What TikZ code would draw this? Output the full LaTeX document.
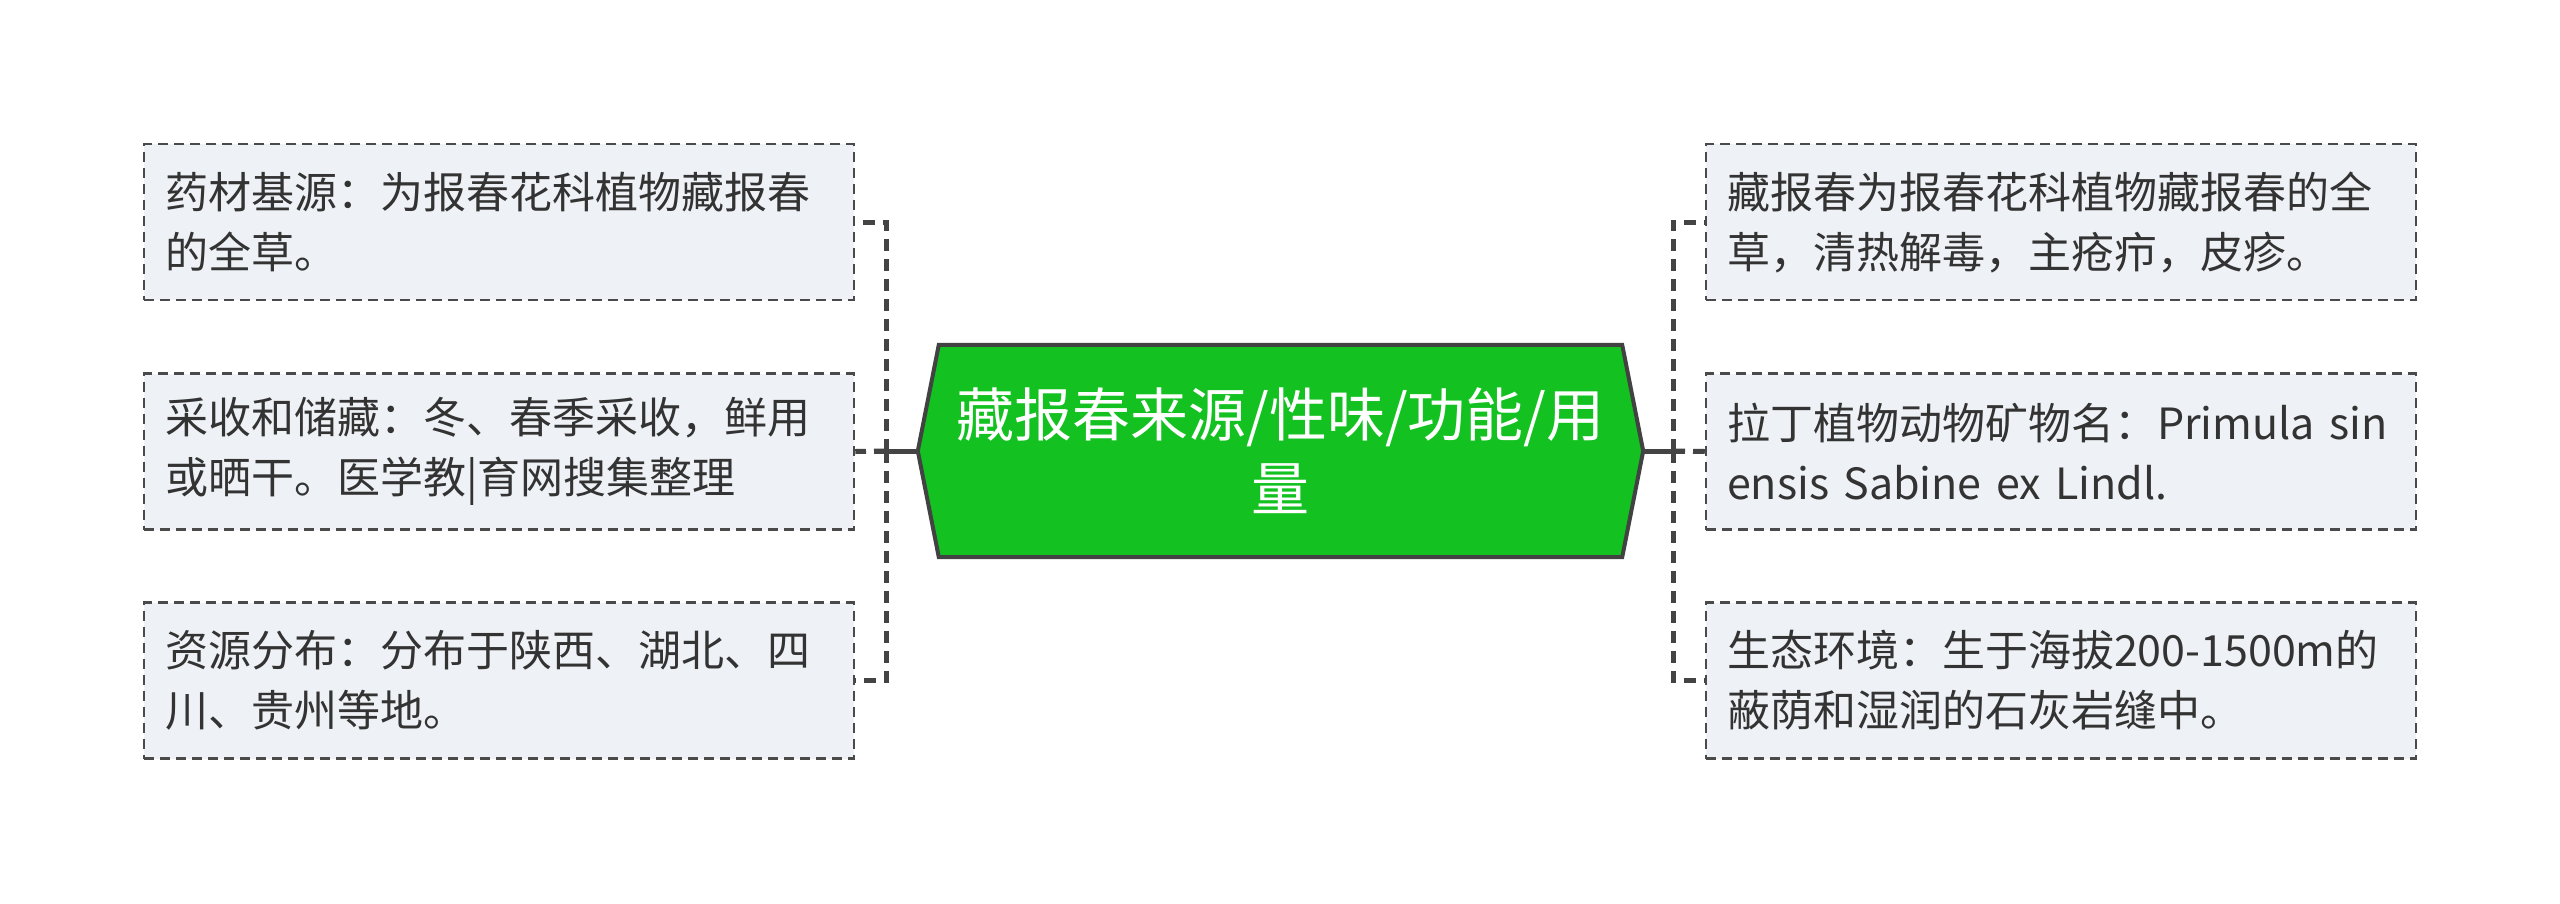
\documentclass[tikz,border=0pt]{standalone}
\usepackage{fontspec}
\setmainfont{Noto Sans CJK SC}
\definecolor{leaffill}{HTML}{EEF1F5}
\definecolor{linecol}{HTML}{4A4A4A}
\definecolor{conncol}{HTML}{444444}
\definecolor{txtcol}{HTML}{333333}
\definecolor{centerfill}{HTML}{13C120}
\definecolor{centerline}{HTML}{424242}
\begin{document}
\begin{tikzpicture}[x=1pt,y=-1pt,
  leaf/.style={draw=linecol, fill=leaffill, line width=2.5pt, dash pattern=on 10pt off 6pt,
    minimum width=710pt, minimum height=156pt, text width=668pt, inner xsep=21pt, inner ysep=0pt,
    align=left, text=txtcol, font=\fontsize{43}{60}\selectfont},
  conn/.style={draw=conncol, line width=5pt, dash pattern=on 12pt off 8pt},
  stem/.style={draw=conncol, line width=5pt}
]
\useasboundingbox[fill=white] (0,0) rectangle (2560,903);
% center
\node[minimum width=725pt, minimum height=212pt, inner sep=0pt] (c) at (1280.5,451) {};
\fill[centerfill, draw=centerline, line width=4pt, line join=miter]
  (c.west) -- ([xshift=21pt]c.north west) -- ([xshift=-21pt]c.north east) -- (c.east)
  -- ([xshift=-21pt]c.south east) -- ([xshift=21pt]c.south west) -- cycle;
\node[text=white, align=center, font=\fontsize{58}{74}\selectfont] (ct) at (c.center)
  {藏报春来源/性味/功能/用\\量};
% leaves
\node[leaf] (l1) at (499,222) {药材基源：为报春花科植物藏报春\\的全草。};
\node[leaf] (l2) at (499,451.5) {采收和储藏：冬、春季采收，鲜用\\或晒干。医学教|育网搜集整理};
\node[leaf] (l3) at (499,680.5) {资源分布：分布于陕西、湖北、四\\川、贵州等地。};
\node[leaf] (r1) at (2061,222) {藏报春为报春花科植物藏报春的全\\草，清热解毒，主疮疖，皮疹。};
\node[leaf] (r2) at (2061,451.5) {拉丁植物动物矿物名：Primula sin\\ensis Sabine ex Lindl.};
\node[leaf] (r3) at (2061,680.5) {生态环境：生于海拔200-1500m的\\蔽荫和湿润的石灰岩缝中。};
% connectors
\coordinate (jl) at (886,451);
\coordinate (jr) at (1673,451);
\draw[stem] (c.west) -- ([xshift=-12pt]jl);
\draw[stem] (c.east) -- ([xshift=12pt]jr);
\draw[conn] (jl) |- (l1.east);
\draw[conn] (jl) -- (l2.east);
\draw[conn] (jl) |- (l3.east);
\draw[conn] (jr) |- (r1.west);
\draw[conn] (jr) -- (r2.west);
\draw[conn] (jr) |- (r3.west);
\end{tikzpicture}
\end{document}
